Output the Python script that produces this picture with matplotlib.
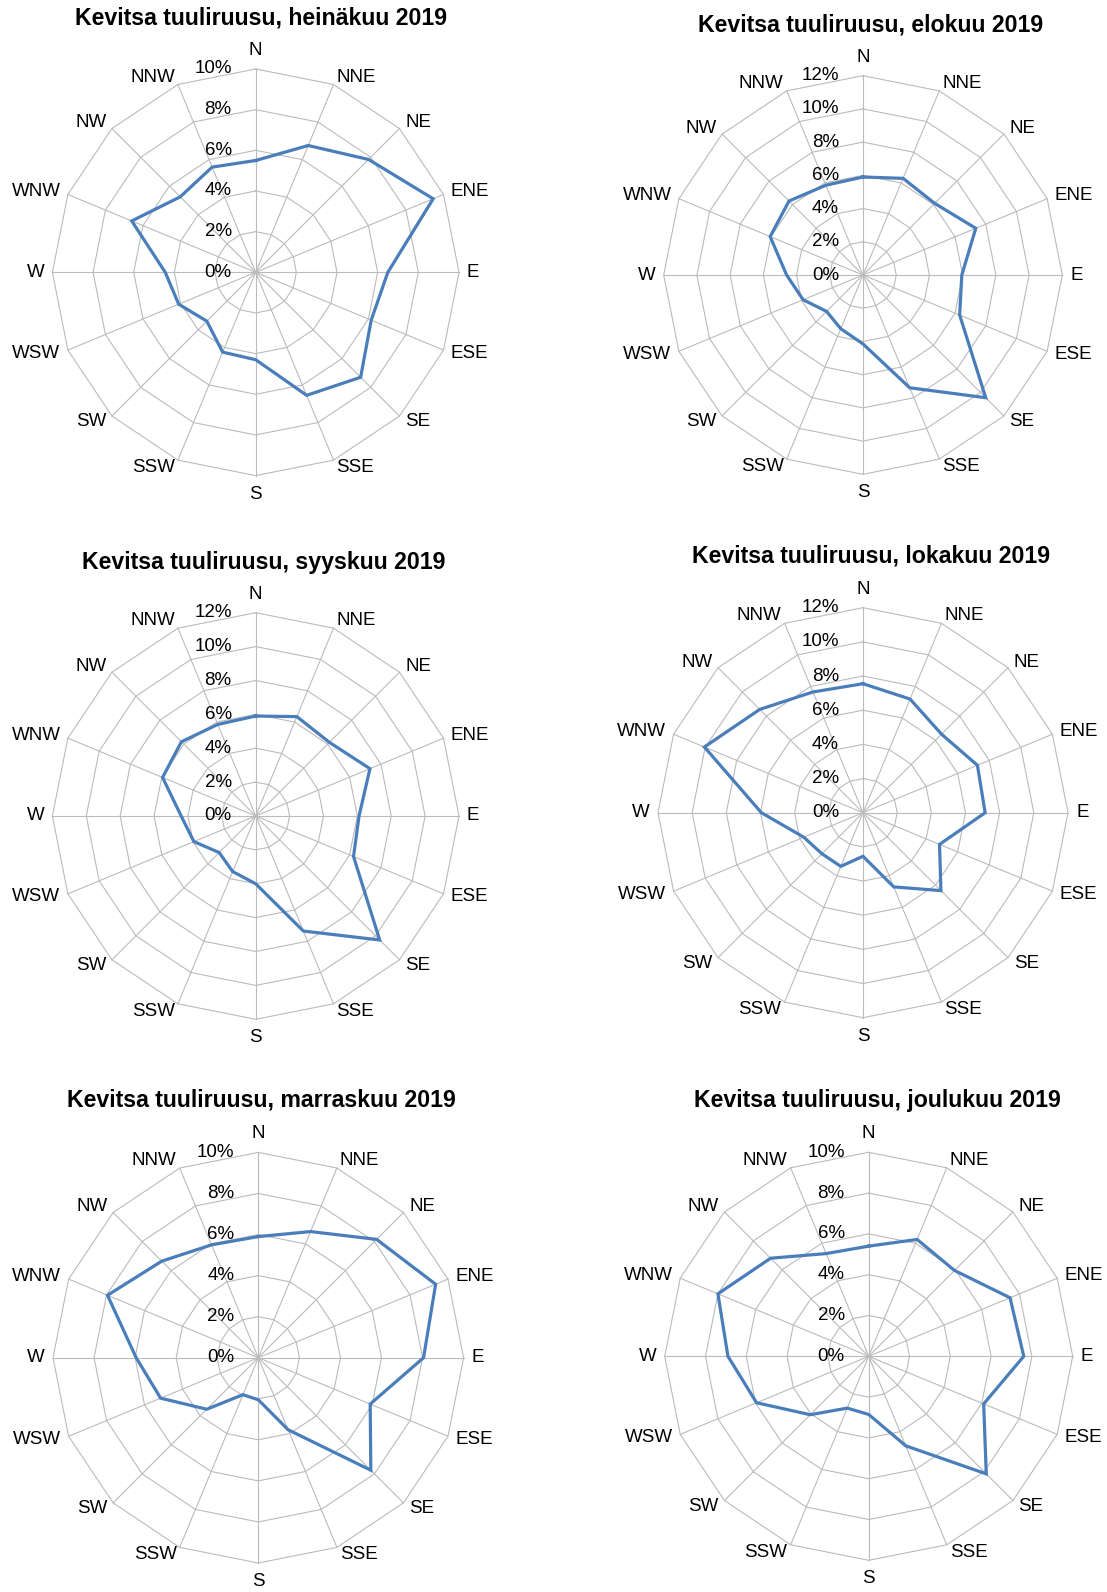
import numpy as np
import matplotlib
matplotlib.use("Agg")
import matplotlib.pyplot as plt

plt.rcParams["font.family"] = ["Liberation Sans", "DejaVu Sans"]

# Wind directions (16 sectors, clockwise from north)
directions = ["N", "NNE", "NE", "ENE", "E", "ESE", "SE", "SSE",
              "S", "SSW", "SW", "WSW", "W", "WNW", "NW", "NNW"]

# Share of observations per direction (%)
heinakuu = [5.5, 6.75, 7.85, 9.45, 6.5, 6.15, 7.3, 6.55, 4.3, 4.25, 3.4, 4.1, 4.45, 6.6, 5.25, 5.6]
elokuu = [5.9, 6.3, 6.1, 7.35, 5.95, 6.3, 10.45, 7.35, 4.15, 3.5, 3.1, 3.9, 4.6, 6.05, 6.3, 5.85]
syyskuu = [5.9, 6.35, 6.15, 7.3, 6.1, 6.25, 10.35, 7.35, 4.0, 3.55, 3.05, 3.95, 4.4, 5.95, 6.2, 5.85]
lokakuu = [7.55, 7.2, 6.5, 7.25, 7.15, 4.85, 6.45, 4.7, 2.55, 3.4, 3.4, 3.75, 5.95, 10.05, 8.55, 7.65]
marraskuu = [5.9, 6.65, 8.15, 9.35, 8.05, 5.9, 7.75, 3.8, 2.05, 1.95, 3.55, 5.15, 5.95, 7.95, 6.65, 5.95]
joulukuu = [5.4, 6.2, 5.95, 7.5, 7.6, 6.1, 8.15, 4.75, 2.85, 2.75, 4.05, 5.95, 6.9, 8.0, 6.8, 5.45]

titles = ["Kevitsa tuuliruusu, heinäkuu 2019",
          "Kevitsa tuuliruusu, elokuu 2019",
          "Kevitsa tuuliruusu, syyskuu 2019",
          "Kevitsa tuuliruusu, lokakuu 2019",
          "Kevitsa tuuliruusu, marraskuu 2019",
          "Kevitsa tuuliruusu, joulukuu 2019"]
series = [heinakuu, elokuu, syyskuu, lokakuu, marraskuu, joulukuu]
axis_max = [10, 12, 12, 12, 10, 10]
axis_step = 2

W, H = 1107, 1592
DPI = 100
fig = plt.figure(figsize=(W / DPI, H / DPI), dpi=DPI)

# Panel layout in pixels: centre x, centre y (from top), radius
panels = [(255.7, 272.3, 203.3), (863.0, 275.0, 199.3),
          (255.7, 816.0, 203.3), (863.0, 812.7, 205.0),
          (258.3, 1357.7, 205.3), (868.7, 1356.3, 204.0)]
title_pos = [(261, 18), (870.5, 25), (263.5, 562), (871, 556.5), (261, 1100), (877.5, 1101)]

line_color = "#4A7EBB"
grid_color = "#BBBBBB"
n = len(directions)
angles = np.arange(n) * 2 * np.pi / n
closed = np.append(angles, angles[0])

for k in range(6):
    cx, cy, R = panels[k]
    ax = fig.add_axes([(cx - R) / W, (H - cy - R) / H, 2 * R / W, 2 * R / H],
                      projection="polar")
    ax.set_theta_zero_location("N")
    ax.set_theta_direction(-1)
    rmax = axis_max[k]
    ax.set_ylim(0, rmax)
    ax.set_xticks([])
    ax.set_yticks([])
    ax.grid(False)
    ax.spines["polar"].set_visible(False)
    ax.patch.set_visible(False)

    levels = np.arange(axis_step, rmax + 0.001, axis_step)
    for lv in levels:
        ax.plot(closed, [lv] * (n + 1), color=grid_color, lw=0.8, zorder=1, clip_on=False)
    for a in angles:
        ax.plot([a, a], [0, rmax], color=grid_color, lw=0.8, zorder=1, clip_on=False)

    vals = list(series[k])
    ax.plot(closed, vals + [vals[0]], color=line_color, lw=2.3, zorder=3,
            solid_joinstyle="miter", clip_on=False)

    # radial value labels beside the north axis
    for lv in np.arange(0, rmax + 0.001, axis_step):
        ax.annotate(f"{int(lv)}%", xy=(0, lv), xytext=(-24, 0),
                    textcoords="offset pixels", ha="right", va="center",
                    fontsize=13.5, color="#000000", zorder=4)

    # direction labels outside the outer ring
    for a, name in zip(angles, directions):
        s, c = np.sin(a), np.cos(a)
        ha = "center" if abs(s) < 0.1 else ("left" if s > 0 else "right")
        if c > 0.99:
            va, off = "bottom", (0, 10)
        elif c < -0.99:
            va, off = "top", (0, -10)
        else:
            va, off = "center", (8 * s, 8 * c)
        ax.annotate(name, xy=(a, rmax), xytext=off, textcoords="offset pixels",
                    ha=ha, va=va, fontsize=13.5, color="#000000")

    tx, ty = title_pos[k]
    fig.text(tx / W, 1 - ty / H, titles[k], ha="center", va="center",
             fontsize=16.7, fontweight="bold")

fig.savefig("out.png", dpi=DPI, facecolor="white")
